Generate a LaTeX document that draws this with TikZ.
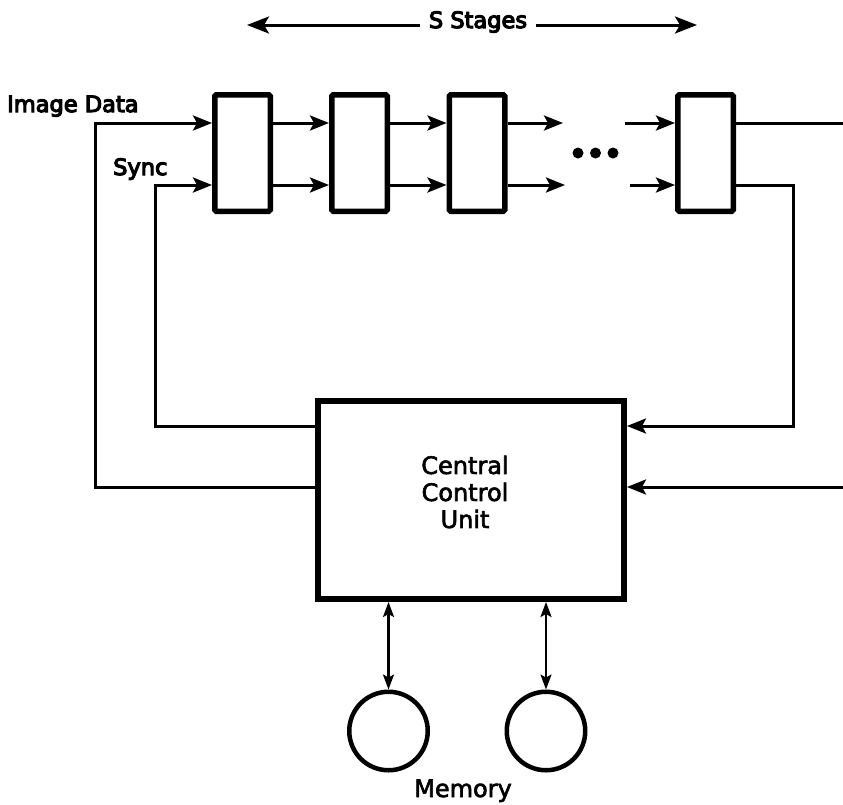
\documentclass[tikz,border=0pt]{standalone}
\usepackage{fontspec}
\setmainfont[FakeBold=2.5]{DejaVu Sans}
\newfontfamily\boldish[FakeBold=5]{DejaVu Sans}
\usetikzlibrary{arrows.meta}
\begin{document}
\begin{tikzpicture}[x=1pt,y=-1pt,
  stagebox/.style={draw, line width=5.5pt, minimum width=55.5pt, minimum height=116.5pt, inner sep=0pt, rounded corners=1.5pt},
  ccubox/.style={draw, line width=6pt, minimum width=306pt, minimum height=198pt, inner sep=0pt},
  membox/.style={draw, circle, line width=4.5pt, minimum size=78.5pt, inner sep=0pt},
  dotnode/.style={circle, fill, minimum size=11pt, inner sep=0pt},
  wire/.style={line width=3pt},
  arr/.style={wire, -{Stealth[length=19pt,width=15pt,inset=4pt]}},
  arrtop/.style={wire, -{Stealth[length=22pt,width=17pt,inset=5pt]}},
  darr/.style={line width=2.2pt, {Stealth[length=15pt,width=11pt,inset=3pt]}-{Stealth[length=15pt,width=11pt,inset=3pt]}},
  lbl/.style={font=\fontsize{24}{27}\selectfont},
  lblb/.style={font=\fontsize{22.5}{27}\selectfont\boldish},
]
\useasboundingbox (0,0) rectangle (843,804);

% rows
\coordinate (rt) at (0,123);
\coordinate (rb) at (0,185);
\coordinate (cu) at (0,426);
\coordinate (cl) at (0,487);
\coordinate (xa) at (95,0);
\coordinate (xs) at (155,0);
\coordinate (xr) at (793,0);

% stages
\node[stagebox] (b1) at (242.5,153) {};
\node[stagebox] (b2) at (359.5,153) {};
\node[stagebox] (b3) at (477,153) {};
\node[stagebox] (b4) at (705.5,153) {};

% central control unit
\node[ccubox] (ccu) at (471,500) {};
\node[lbl, align=center] (ccut) at (465,492) {Central\\Control\\Unit};

% memories
\node[membox] (m1) at (388.5,731) {};
\node[membox] (m2) at (546,731) {};
\node[lbl, anchor=base] (memt) at (463,797) {Memory};

% labels
\node[lblb, anchor=base west, inner sep=0pt] (idt) at (7,112) {Image Data};
\node[lblb, anchor=base west, inner sep=0pt] (syt) at (113,175) {Sync};
\node[lblb, anchor=base, inner xsep=9pt, inner ysep=0pt] (sst) at (478,28) {S Stages};
\coordinate (sl) at (0,25);
\coordinate (slt) at (247,25);
\coordinate (srt) at (697,25);
\draw[arrtop] (sst.west |- sl) -- (slt);
\draw[arrtop] (sst.east |- sl) -- (srt);

% stage connections
\draw[arr] (b1.east |- rt) -- (b2.west |- rt);
\draw[arr] (b1.east |- rb) -- (b2.west |- rb);
\draw[arr] (b2.east |- rt) -- (b3.west |- rt);
\draw[arr] (b2.east |- rb) -- (b3.west |- rb);
\coordinate (o3t) at (563,123);
\coordinate (o3b) at (565,185);
\draw[arr] (b3.east |- rt) -- (o3t);
\draw[arr] (b3.east |- rb) -- (o3b);
\coordinate (i4t) at (625,123);
\coordinate (i4b) at (630,185);
\draw[arr] (i4t) -- (b4.west |- rt);
\draw[arr] (i4b) -- (b4.west |- rb);

% dots
\node[dotnode] (d1) at (578,153) {};
\node[dotnode] (d2) at (595.5,153) {};
\node[dotnode] (d3) at (613,153) {};

% outputs of last stage
\coordinate (ot) at (843,123);
\draw[wire] (b4.east |- rt) -- (ot);
\draw[arr] (b4.east |- rb) -- (xr |- rb) -- (xr |- cu) -- (ccu.east |- cu);
\coordinate (inr) at (843,487);
\draw[arr] (inr) -- (ccu.east |- cl);

% feedback to first stage
\draw[arr] (ccu.west |- cl) -- (xa |- cl) -- (xa |- rt) -- (b1.west |- rt);
\draw[arr] (ccu.west |- cu) -- (xs |- cu) -- (xs |- rb) -- (b1.west |- rb);

% memory links
\draw[darr] (ccu.south -| m1) -- (m1.north);
\draw[darr] (ccu.south -| m2) -- (m2.north);
\end{tikzpicture}
\end{document}
